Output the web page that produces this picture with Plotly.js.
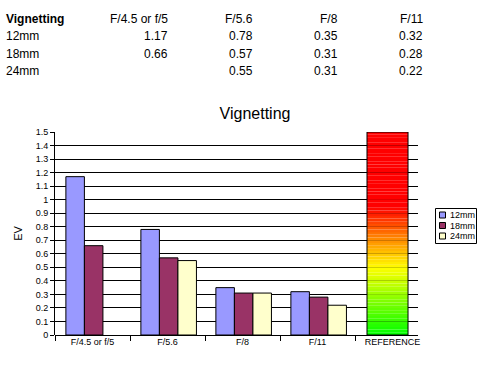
<!DOCTYPE html>
<html><head><meta charset="utf-8">
<script src="https://cdn.plot.ly/plotly-3.0.1.min.js"></script>
<style>html,body{margin:0;padding:0;background:#fff}#chart{width:499px;height:365px}</style>
</head><body><div id="chart"></div>
<script>
const categories = ['F/4.5 or f/5', 'F/5.6', 'F/8', 'F/11'];
const tableHeaders = ['F/4.5 or f/5', 'F/5.6', 'F/8', 'F/11'];
const series = ['12mm', '18mm', '24mm'];
const v12 = [1.17, 0.78, 0.35, 0.32];
const v18 = [0.66, 0.57, 0.31, 0.28];
const v24 = [null, 0.55, 0.31, 0.22];
const refCategory = 'REFERENCE';
const refValue = 1.5;
const colors = ['#9999ff', '#993366', '#ffffcc'];

const font = 'Liberation Sans, Arial, sans-serif';
const offsets = [-0.355, -0.108, 0.139];
const bw = 0.247;
const vals = [v12, v18, v24];
const traces = series.map((s, i) => ({
  type: 'bar', name: s, x: categories, y: vals[i],
  offset: offsets[i], width: bw,
  marker: {color: colors[i], line: {color: '#000', width: 1}},
  hoverinfo: 'x+y+name'
}));

// gradient reference bar built from stacked thin segments
const nSeg = 75;
const stops = [[0, [0, 255, 0]], [0.33, [255, 255, 0]], [0.47, [255, 140, 0]], [0.63, [255, 0, 0]], [1, [255, 0, 0]]];
function colAt(t) {
  for (let k = 1; k < stops.length; k++) {
    if (t <= stops[k][0]) {
      const a = stops[k - 1], b = stops[k];
      const f = (t - a[0]) / (b[0] - a[0]);
      const c = a[1].map((v, j) => Math.round(v + (b[1][j] - v) * f));
      return 'rgb(' + c.join(',') + ')';
    }
  }
  return 'rgb(255,0,0)';
}
const segX = [], segY = [], segB = [], segC = [];
for (let k = 0; k < nSeg; k++) {
  const h = refValue / nSeg;
  segX.push(refCategory); segY.push(h * 1.02); segB.push(k * h); segC.push(colAt((k + 0.5) / nSeg));
}
traces.push({
  type: 'bar', x: segX, y: segY, base: segB, offset: -0.34, width: 0.547,
  marker: {color: segC, line: {width: 0}}, showlegend: false, hoverinfo: 'skip'
});
traces.push({
  type: 'bar', x: [refCategory], y: [refValue], offset: -0.34, width: 0.547,
  marker: {color: 'rgba(0,0,0,0)', line: {color: '#000', width: 1}}, showlegend: false, name: refCategory
});

const L = 55, R = 418, T = 132, B = 335;
const px = x => (x - L) / (R - L);
const py = y => (B - y) / (B - T);

// data table at top
const ann = [];
ann.push({text: '<b>Vignetting</b>', x: 4, y: 19, xanchor: 'left'});
const colRight = [170, 255, 340, 425];
tableHeaders.forEach((h, j) => ann.push({text: h, x: colRight[j], y: 19, xanchor: 'right'}));
const rowY = [36.5, 53.5, 70.5];
series.forEach((s, i) => {
  ann.push({text: s, x: 4, y: rowY[i], xanchor: 'left'});
  vals[i].forEach((v, j) => {
    if (v !== null) ann.push({text: v.toFixed(2), x: colRight[j], y: rowY[i], xanchor: 'right'});
  });
});
const annotations = ann.map(a => Object.assign({
  xref: 'paper', yref: 'paper', showarrow: false, yanchor: 'middle',
  font: {family: font, size: 12, color: '#000'}
}, a, {x: px(a.x), y: py(a.y)}));

// compact legend box (like the original spreadsheet legend)
const shapes = [{
  type: 'rect', xref: 'paper', yref: 'paper', x0: px(435.5), x1: px(476.5), y0: py(208.5), y1: py(243.5),
  line: {color: '#000', width: 1}, fillcolor: '#fff', layer: 'above'
}];
const legRowY = [215, 225.5, 236];
series.forEach((s, i) => {
  shapes.push({
    type: 'rect', xref: 'paper', yref: 'paper', x0: px(439.5), x1: px(445.5), y0: py(legRowY[i] - 3), y1: py(legRowY[i] + 3),
    line: {color: '#000', width: 1}, fillcolor: colors[i], layer: 'above'
  });
  annotations.push({
    text: s, xref: 'paper', yref: 'paper', x: px(447.5), y: py(legRowY[i]), xanchor: 'left', yanchor: 'middle',
    showarrow: false, font: {family: font, size: 9, color: '#000'}
  });
});

const layout = {
  width: 499, height: 365,
  margin: {l: L, r: 499 - R, t: T, b: 365 - B, pad: 0, autoexpand: false},
  paper_bgcolor: '#fff', plot_bgcolor: '#fff',
  barmode: 'overlay',
  title: {text: 'Vignetting', font: {family: font, size: 16, color: '#000'}, x: px(255), xanchor: 'center', y: 0.69, yanchor: 'middle', xref: 'paper', yref: 'container'},
  xaxis: {
    type: 'category', categoryarray: categories.concat([refCategory]), categoryorder: 'array',
    range: [-0.5, 4.34], tickson: 'boundaries', ticks: 'outside', ticklen: 5, tickcolor: '#000',
    showline: false, showgrid: false, zeroline: false, automargin: false,
    tickfont: {family: font, size: 9, color: '#000'}
  },
  yaxis: {
    range: [0, 1.5], dtick: 0.1, tick0: 0, ticks: 'outside', ticklen: 4, tickcolor: '#000',
    showline: true, linecolor: '#000', linewidth: 1, showgrid: true, gridcolor: '#000', gridwidth: 1,
    zeroline: true, zerolinecolor: '#000', zerolinewidth: 1, automargin: false,
    tickfont: {family: font, size: 9, color: '#000'},
    title: {text: 'EV', font: {family: font, size: 11, color: '#000'}, standoff: 10}
  },
  annotations: annotations,
  shapes: shapes,
  showlegend: false
};

Plotly.newPlot('chart', traces, layout, {displayModeBar: false, staticPlot: true});
</script></body></html>
